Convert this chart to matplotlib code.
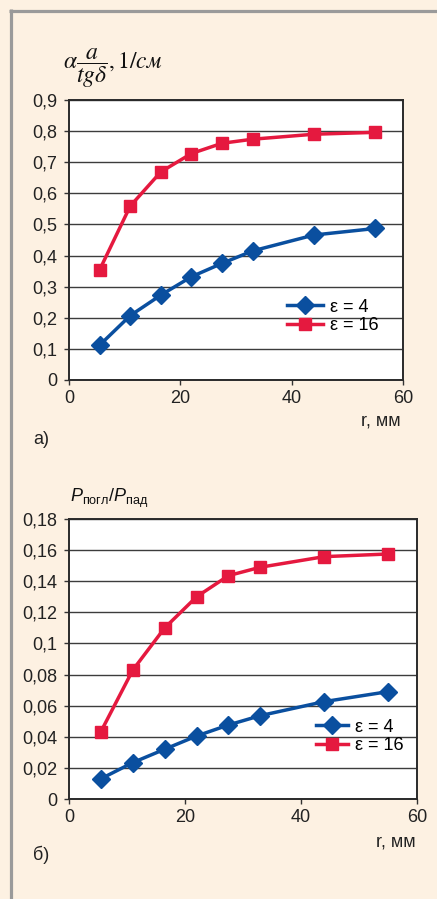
import matplotlib
matplotlib.use("Agg")
import matplotlib.pyplot as plt
from matplotlib.lines import Line2D
from matplotlib import font_manager

# ---------------- data ----------------
r_mm = [5.5, 11, 16.5, 22, 27.5, 33, 44, 55]
alpha_eps4 = [0.112, 0.207, 0.273, 0.332, 0.375, 0.415, 0.466, 0.487]
alpha_eps16 = [0.354, 0.559, 0.669, 0.728, 0.761, 0.774, 0.790, 0.796]
p_eps4 = [0.013, 0.0234, 0.032, 0.0405, 0.0476, 0.0536, 0.0626, 0.069]
p_eps16 = [0.0433, 0.0829, 0.110, 0.130, 0.1436, 0.149, 0.1558, 0.1575]

series_labels = ["ε = 4", "ε = 16"]
x_ticks = [0, 20, 40, 60]
x_ticklabels = ["0", "20", "40", "60"]
top_yticks = [0, 0.1, 0.2, 0.3, 0.4, 0.5, 0.6, 0.7, 0.8, 0.9]
top_yticklabels = ["0", "0,1", "0,2", "0,3", "0,4", "0,5", "0,6", "0,7", "0,8", "0,9"]
bot_yticks = [0, 0.02, 0.04, 0.06, 0.08, 0.10, 0.12, 0.14, 0.16, 0.18]
bot_yticklabels = ["0", "0,02", "0,04", "0,06", "0,08", "0,1", "0,12", "0,14", "0,16", "0,18"]

# ---------------- style ----------------
W, H = 437, 899
DPI = 100
BG = "#fdf1e2"
BLUE = "#0a4f9f"
RED = "#e5193f"
GRID = "#3c3c3c"

names = {f.name for f in font_manager.fontManager.ttflist}
if "Liberation Sans Narrow" in names:
    MAIN = "Liberation Sans Narrow"
    FS = 14.5
else:
    MAIN = "Liberation Sans"
    FS = 13
FONT = [MAIN, "DejaVu Sans"]

plt.rcParams["font.family"] = FONT
plt.rcParams["mathtext.fontset"] = "custom"
plt.rcParams["mathtext.rm"] = MAIN
plt.rcParams["mathtext.it"] = MAIN + ":italic"
plt.rcParams["mathtext.bf"] = MAIN + ":bold"

fig = plt.figure(figsize=(W / DPI, H / DPI), dpi=DPI, facecolor=BG)

# frame lines of the page box (left and top, grey)
fig.add_artist(Line2D([10.5 / W, 10.5 / W], [0, 1 - 9 / H], transform=fig.transFigure,
                      color="#9a9a9a", lw=2.3, solid_capstyle="butt"))
fig.add_artist(Line2D([9.3 / W, 1], [1 - 10.5 / H, 1 - 10.5 / H], transform=fig.transFigure,
                      color="#9a9a9a", lw=2.3, solid_capstyle="butt"))


def px_axes(l, t, r, b):
    return fig.add_axes([l / W, 1 - b / H, (r - l) / W, (b - t) / H])


def style_axes(ax, yticks, yticklabels, ymax):
    ax.set_facecolor("white")
    ax.set_xlim(0, 60)
    ax.set_ylim(0, ymax)
    ax.set_xticks(x_ticks)
    ax.set_xticklabels(x_ticklabels)
    ax.set_yticks(yticks)
    ax.set_yticklabels(yticklabels)
    ax.tick_params(axis="both", direction="out", length=3.5, width=1, color="#333333",
                   labelsize=FS, labelcolor="#222222")
    ax.tick_params(axis="x", pad=4)
    ax.tick_params(axis="y", pad=5)
    ax.yaxis.grid(True, color=GRID, lw=1.0)
    ax.set_axisbelow(True)
    for s in ax.spines.values():
        s.set_color("#2a2a2a")
        s.set_linewidth(1.4)


def plot_series(ax, x, y4, y16):
    ax.plot(x, y4, color=BLUE, lw=2.5, marker="D", ms=9, mec=BLUE, mfc=BLUE,
            label=series_labels[0], clip_on=False, zorder=3)
    ax.plot(x, y16, color=RED, lw=2.5, marker="s", ms=9, mec=RED, mfc=RED,
            label=series_labels[1], clip_on=False, zorder=3)


# ---------------- top panel (a) ----------------
ax1 = px_axes(69, 100, 403, 380)
style_axes(ax1, top_yticks, top_yticklabels, 0.9)
plot_series(ax1, r_mm, alpha_eps4, alpha_eps16)
ax1.legend(loc="center left", bbox_to_anchor=((287 - 69) / 334, (380 - 316.5) / 280),
           frameon=False, fontsize=FS, borderpad=0, borderaxespad=0,
           handlelength=2.0, handletextpad=0.4, labelspacing=0.1)
fig.text(401 / W, 1 - 421 / H, "r, мм", ha="right", va="center", fontsize=FS, color="#222222")
fig.text(33 / W, 1 - 440 / H, "а)", ha="left", va="center", fontsize=FS, color="#222222")
fig.text(63 / W, 1 - 68 / H, r"$\alpha\dfrac{a}{tg\delta}, 1/\mathit{см}$", ha="left",
         va="center", fontsize=17, color="#111111", math_fontfamily="stix")

# ---------------- bottom panel (b) ----------------
ax2 = px_axes(69, 519, 417, 799)
style_axes(ax2, bot_yticks, bot_yticklabels, 0.18)
plot_series(ax2, r_mm, p_eps4, p_eps16)
ax2.legend(loc="center left", bbox_to_anchor=((316 - 69) / 348, (799 - 736.5) / 280),
           frameon=False, fontsize=FS, borderpad=0, borderaxespad=0,
           handlelength=1.75, handletextpad=0.4, labelspacing=0.1)
fig.text(416 / W, 1 - 842 / H, "r, мм", ha="right", va="center", fontsize=FS, color="#222222")
fig.text(33 / W, 1 - 855 / H, "б)", ha="left", va="center", fontsize=FS, color="#222222")
fig.text(70 / W, 1 - 498 / H, r"$P_{\mathrm{погл}}/P_{\mathrm{пад}}$", ha="left",
         va="center", fontsize=FS, color="#111111")

fig.savefig("out.png", dpi=DPI, facecolor=BG)
